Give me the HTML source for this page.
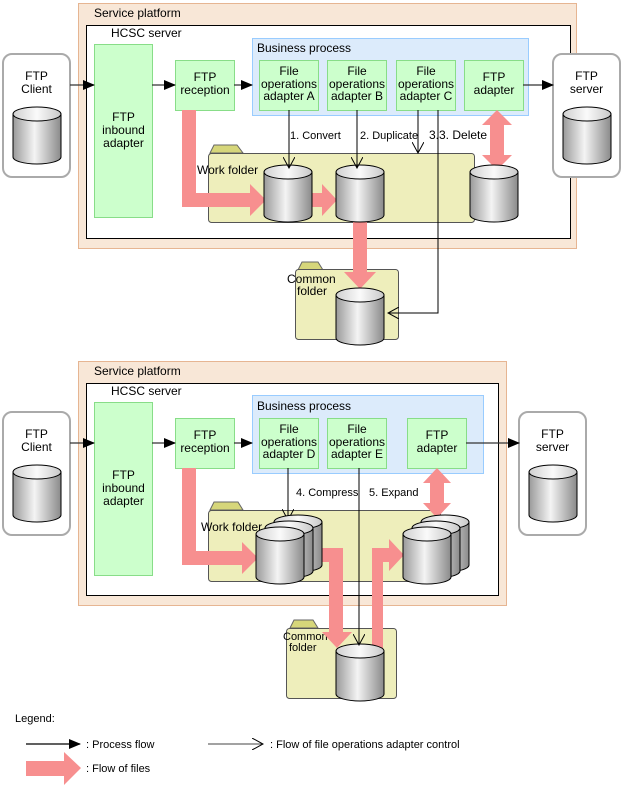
<!DOCTYPE html>
<html><head><meta charset="utf-8"><style>
html,body{margin:0;padding:0;background:#fff;}
svg{display:block;font-family:"Liberation Sans",sans-serif;font-size:12px;}
</style></head><body>
<svg width="623" height="788" viewBox="0 0 623 788" xmlns="http://www.w3.org/2000/svg">
<defs>
<linearGradient id="cg" x1="0" y1="0" x2="1" y2="0">
<stop offset="0" stop-color="#9a9a9a"/><stop offset="0.45" stop-color="#f4f4f4"/><stop offset="1" stop-color="#8a8a8a"/>
</linearGradient>
<linearGradient id="ct" x1="0" y1="0" x2="1" y2="0">
<stop offset="0" stop-color="#d0d0d0"/><stop offset="0.5" stop-color="#fafafa"/><stop offset="1" stop-color="#c8c8c8"/>
</linearGradient>
<g id="cyl">
<path d="M0,7 V50 A24,7 0 0 0 48,50 V7 Z" fill="url(#cg)" stroke="#000" stroke-width="1"/>
<ellipse cx="24" cy="7" rx="24" ry="7" fill="url(#ct)" stroke="#000" stroke-width="1"/>
</g>
<marker id="fa" markerWidth="12" markerHeight="10" refX="11" refY="5" orient="auto" markerUnits="userSpaceOnUse"><path d="M0,0 L12,5 L0,10 Z" fill="#000"/></marker>
<marker id="oa" markerWidth="12" markerHeight="12" refX="11" refY="6" orient="auto" markerUnits="userSpaceOnUse"><path d="M0,0 L11,6 L0,12" fill="none" stroke="#000" stroke-width="1"/></marker>
</defs>

<!-- ================= TOP ================= -->
<rect x="78.5" y="3.5" width="498" height="245" fill="#f8e7d7" stroke="#e6b592"/>
<text x="94" y="17">Service platform</text>
<rect x="86.5" y="25.5" width="484" height="213" fill="#fff" stroke="#000"/>
<text x="111" y="37">HCSC server</text>

<rect x="3" y="54" width="67" height="123" rx="9" fill="#fff" stroke="#aaa" stroke-width="2"/>
<text x="36.5" y="80" text-anchor="middle">FTP</text>
<text x="36.5" y="93" text-anchor="middle">Client</text>
<use href="#cyl" x="13" y="107"/>

<rect x="94.5" y="44.5" width="58" height="173" fill="#ccffcc" stroke="#88dd88"/>
<text x="123.5" y="121" text-anchor="middle">FTP</text>
<text x="123.5" y="134" text-anchor="middle">inbound</text>
<text x="123.5" y="147" text-anchor="middle">adapter</text>

<rect x="175.5" y="60.5" width="59" height="50" fill="#ccffcc" stroke="#88dd88"/>
<text x="205" y="81" text-anchor="middle">FTP</text>
<text x="205" y="94" text-anchor="middle">reception</text>

<rect x="252.5" y="38.5" width="276" height="77" fill="#dcebfb" stroke="#99ccff"/>
<text x="257" y="52">Business process</text>
<rect x="259.5" y="60.5" width="59" height="50" fill="#ccffcc" stroke="#88dd88"/>
<text x="289" y="75" text-anchor="middle">File</text>
<text x="289" y="88" text-anchor="middle">operations</text>
<text x="289" y="100" text-anchor="middle">adapter A</text>
<rect x="327.5" y="60.5" width="59" height="50" fill="#ccffcc" stroke="#88dd88"/>
<text x="357" y="75" text-anchor="middle">File</text>
<text x="357" y="88" text-anchor="middle">operations</text>
<text x="357" y="100" text-anchor="middle">adapter B</text>
<rect x="396.5" y="60.5" width="59" height="50" fill="#ccffcc" stroke="#88dd88"/>
<text x="426" y="75" text-anchor="middle">File</text>
<text x="426" y="88" text-anchor="middle">operations</text>
<text x="426" y="100" text-anchor="middle">adapter C</text>
<rect x="464.5" y="60.5" width="59" height="50" fill="#ccffcc" stroke="#88dd88"/>
<text x="494" y="81" text-anchor="middle">FTP</text>
<text x="494" y="94" text-anchor="middle">adapter</text>

<rect x="553" y="54" width="67" height="123" rx="9" fill="#fff" stroke="#aaa" stroke-width="2"/>
<text x="586.5" y="80" text-anchor="middle">FTP</text>
<text x="586.5" y="93" text-anchor="middle">server</text>
<use href="#cyl" x="563" y="107"/>

<g stroke="#333" stroke-width="1.2">
<line x1="70" y1="85" x2="94" y2="85" marker-end="url(#fa)"/>
<line x1="152" y1="85" x2="175" y2="85" marker-end="url(#fa)"/>
<line x1="234" y1="85" x2="252" y2="85" marker-end="url(#fa)"/>
<line x1="523" y1="85" x2="553" y2="85" marker-end="url(#fa)"/>
</g>

<path d="M210,153 L214,145 L237,145 L243,153 Z" fill="#d6d67a" stroke="#666"/>
<rect x="208.5" y="153.5" width="266" height="69" rx="3" fill="#eeeebb" stroke="#555"/>
<text x="197" y="174">Work folder</text>

<path d="M298,270 L302,262 L318,262 L323,270 Z" fill="#d6d67a" stroke="#666"/>
<rect x="295.5" y="269.5" width="103" height="70" rx="3" fill="#eeeebb" stroke="#555"/>
<text x="287" y="283">Common</text>
<text x="297" y="295">folder</text>

<g fill="#f78f8f">
<path d="M182,110 H196 V193 H250 V184 L266,200 L250,216 V207 H182 Z"/>
<path d="M312,193 H322 V184 L337,200 L322,216 V207 H312 Z"/>
<path d="M353,218 H367 V272 H376 L360,289 L344,272 H353 Z"/>
<path d="M490,125 H482 L497,110 L512,125 H504 V155 H512 L497,170 L482,155 H490 Z"/>
</g>
<use href="#cyl" x="264" y="165"/>
<use href="#cyl" x="336" y="165"/>
<use href="#cyl" x="470" y="165"/>
<use href="#cyl" x="336" y="288"/>

<g stroke="#000" stroke-width="1" fill="none">
<line x1="289" y1="110" x2="289" y2="168" marker-end="url(#oa)"/>
<line x1="357" y1="110" x2="357" y2="168" marker-end="url(#oa)"/>
<line x1="418" y1="110" x2="418" y2="153" marker-end="url(#oa)"/>
<path d="M438,110 V313 H388" marker-end="url(#oa)"/>
</g>
<text x="290" y="139" font-size="11">1. Convert</text>
<text x="360" y="139" font-size="11">2. Duplicate</text>
<text x="429" y="139">3.3. Delete</text>

<!-- ================= BOTTOM ================= -->
<rect x="78.5" y="361.5" width="428" height="244" fill="#f8e7d7" stroke="#e6b592"/>
<text x="94" y="375">Service platform</text>
<rect x="86.5" y="383.5" width="412" height="212" fill="#fff" stroke="#000"/>
<text x="111" y="395">HCSC server</text>

<rect x="3" y="412" width="67" height="123" rx="9" fill="#fff" stroke="#aaa" stroke-width="2"/>
<text x="36.5" y="438" text-anchor="middle">FTP</text>
<text x="36.5" y="451" text-anchor="middle">Client</text>
<use href="#cyl" x="13" y="465"/>

<rect x="94.5" y="402.5" width="58" height="173" fill="#ccffcc" stroke="#88dd88"/>
<text x="123.5" y="479" text-anchor="middle">FTP</text>
<text x="123.5" y="492" text-anchor="middle">inbound</text>
<text x="123.5" y="505" text-anchor="middle">adapter</text>

<rect x="175.5" y="418.5" width="59" height="50" fill="#ccffcc" stroke="#88dd88"/>
<text x="205" y="439" text-anchor="middle">FTP</text>
<text x="205" y="452" text-anchor="middle">reception</text>

<rect x="252.5" y="395.5" width="231" height="78" fill="#dcebfb" stroke="#99ccff"/>
<text x="257" y="410">Business process</text>
<rect x="259.5" y="418.5" width="59" height="50" fill="#ccffcc" stroke="#88dd88"/>
<text x="289" y="433" text-anchor="middle">File</text>
<text x="289" y="446" text-anchor="middle">operations</text>
<text x="289" y="458" text-anchor="middle">adapter D</text>
<rect x="327.5" y="418.5" width="59" height="50" fill="#ccffcc" stroke="#88dd88"/>
<text x="357" y="433" text-anchor="middle">File</text>
<text x="357" y="446" text-anchor="middle">operations</text>
<text x="357" y="458" text-anchor="middle">adapter E</text>
<rect x="407.5" y="418.5" width="59" height="50" fill="#ccffcc" stroke="#88dd88"/>
<text x="437" y="439" text-anchor="middle">FTP</text>
<text x="437" y="452" text-anchor="middle">adapter</text>

<rect x="519" y="412" width="67" height="123" rx="9" fill="#fff" stroke="#aaa" stroke-width="2"/>
<text x="552.5" y="438" text-anchor="middle">FTP</text>
<text x="552.5" y="451" text-anchor="middle">server</text>
<use href="#cyl" x="529" y="465"/>

<g stroke="#333" stroke-width="1.2">
<line x1="70" y1="443" x2="94" y2="443" marker-end="url(#fa)"/>
<line x1="152" y1="443" x2="175" y2="443" marker-end="url(#fa)"/>
<line x1="234" y1="443" x2="252" y2="443" marker-end="url(#fa)"/>
<line x1="466" y1="443" x2="519" y2="443" marker-end="url(#fa)"/>
</g>

<path d="M210,510 L214,502 L238,502 L243,510 Z" fill="#d6d67a" stroke="#666"/>
<rect x="208.5" y="510.5" width="232" height="71" rx="3" fill="#eeeebb" stroke="#555"/>
<text x="201" y="531">Work folder</text>

<path d="M290,628 L294,620 L313,620 L318,628 Z" fill="#d6d67a" stroke="#666"/>
<rect x="286.5" y="628.5" width="110" height="70" rx="3" fill="#eeeebb" stroke="#555"/>
<text x="283" y="640" font-size="11">Common</text>
<text x="289" y="651" font-size="11">folder</text>

<g stroke="#000" stroke-width="1" fill="none">
<line x1="288" y1="468" x2="288" y2="520" marker-end="url(#oa)"/>
</g>

<g fill="#f78f8f">
<path d="M182,468 H196 V551 H242 V542 L258,558 L242,574 V565 H182 Z"/>
<path d="M320,548 H343 V632 H352 L337,648 L322,632 H329 V562 H320 Z"/>
<path d="M372,648 V548 H389 V539 L404,555 L389,571 V562 H383 V648 Z"/>
<path d="M430,483 H423 L437,468 L451,483 H444 V503 H451 L437,518 L423,503 H430 Z"/>
</g>

<use href="#cyl" x="274" y="515"/>
<use href="#cyl" x="265" y="521"/>
<use href="#cyl" x="256" y="527"/>
<use href="#cyl" x="421" y="515"/>
<use href="#cyl" x="412" y="521"/>
<use href="#cyl" x="403" y="527"/>
<use href="#cyl" x="336" y="644"/>

<g stroke="#000" stroke-width="1" fill="none">
<line x1="359" y1="468" x2="359" y2="645" marker-end="url(#oa)"/>
</g>
<rect x="291" y="485" width="64" height="13" fill="#fff"/>
<text x="296" y="496" font-size="11">4. Compress</text>
<text x="369" y="496" font-size="11">5. Expand</text>

<text x="15" y="722" font-size="11">Legend:</text>
<line x1="26" y1="744" x2="80" y2="744" stroke="#000" stroke-width="1.2" marker-end="url(#fa)"/>
<text x="86" y="748" font-size="11">: Process flow</text>
<line x1="208" y1="744" x2="263" y2="744" stroke="#444" stroke-width="1" marker-end="url(#oa)"/>
<text x="270" y="748" font-size="11">: Flow of file operations adapter control</text>
<path d="M26,761 H64 V752 L81,768 L64,785 V776 H26 Z" fill="#f78f8f"/>
<text x="86" y="772" font-size="11">: Flow of files</text>
</svg>
</body></html>
